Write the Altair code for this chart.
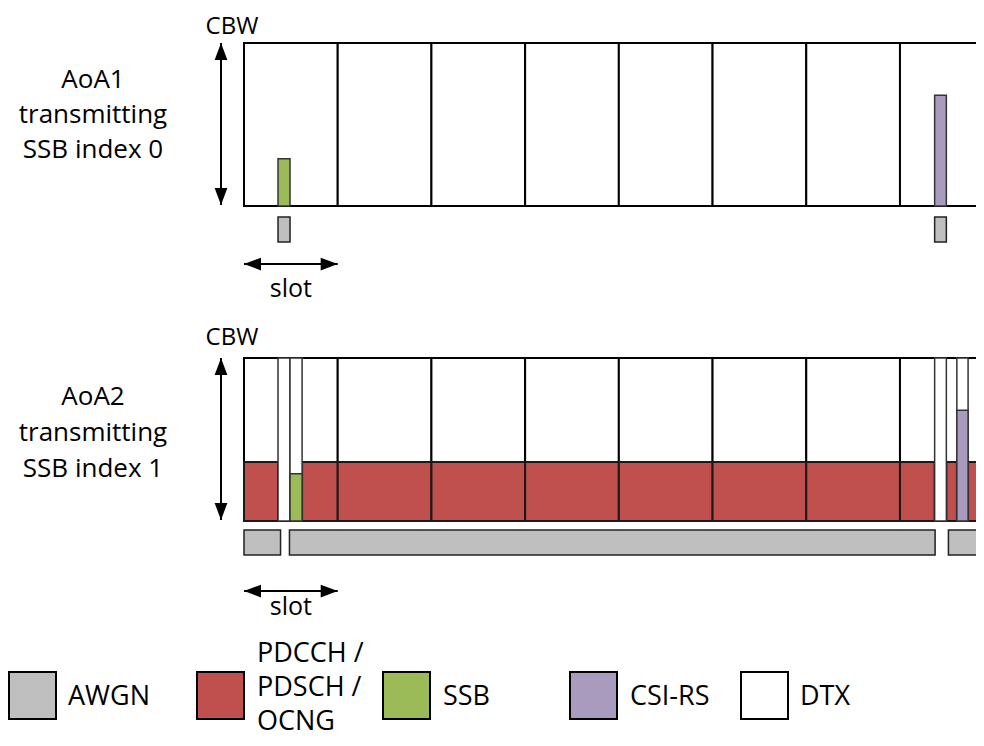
import altair as alt
import pandas as pd

# ---------------- data (time in slots, heights as fraction of CBW) ----------------
n_slots = 8
ssb_height = 0.29
csi_height = 0.68
pdsch_height = 0.362

# AoA1 transmitting SSB index 0
aoa1_ssb = [(0.363, 0.491)]
aoa1_csi = [(7.37, 7.495)]
aoa1_awgn = [(0.363, 0.491), (7.37, 7.495)]

# AoA2 transmitting SSB index 1
aoa2_dtx = [(0.363, 0.491), (7.37, 7.495)]
aoa2_ssb = [(0.491, 0.62)]
aoa2_csi = [(7.607, 7.727)]
aoa2_pdsch = [(0, 0.363), (0.62, 1), (1, 2), (2, 3), (3, 4), (4, 5), (5, 6),
              (6, 7), (7, 7.37), (7.495, 7.607), (7.727, 8)]
aoa2_awgn = [(0, 0.39), (0.485, 7.375), (7.517, 8.3)]

panel_labels = [["AoA1", "transmitting", "SSB index 0"],
                ["AoA2", "transmitting", "SSB index 1"]]
legend_names = ["AWGN", "PDCCH /\nPDSCH /\nOCNG", "SSB", "CSI-RS", "DTX"]
legend_colors = ["#BFBFBF", "#C0504D", "#9BBB59", "#A99BBD", "#FFFFFF"]

C_AWGN, C_RED, C_SSB, C_CSI, C_DTX = legend_colors

# ---------------- layout ----------------
X0_PX, SLOT_PX = 244.0, 93.71
def sx(px):
    return (px - X0_PX) / SLOT_PX

box_top = [43, 358]
box_bot = [206, 521]
awgn_y = [(217, 242), (530, 555)]

def fy(p, frac):
    return box_bot[p] - frac * (box_bot[p] - box_top[p])

rects = []
def add(x, x2, y, y2, fill, stroke="#000000", sw=1.5):
    rects.append(dict(x=x, x2=x2, y=y, y2=y2, fill=fill, stroke=stroke, sw=sw))

# panel 1
for s in range(n_slots):
    add(s, s + 1, box_top[0], box_bot[0], "#FFFFFF", "#000000", 2)
for a, b in aoa1_ssb:
    add(a, b, fy(0, ssb_height), box_bot[0], C_SSB, "#333333", 1.5)
for a, b in aoa1_csi:
    add(a, b, fy(0, csi_height), box_bot[0], C_CSI, "#333333", 1.5)
for a, b in aoa1_awgn:
    add(a, b, awgn_y[0][0], awgn_y[0][1], C_AWGN, "#222222", 1.5)

# panel 2
for s in range(n_slots):
    add(s, s + 1, box_top[1], box_bot[1], "#FFFFFF", "#000000", 2)
for a, b in aoa2_pdsch:
    add(a, b, fy(1, pdsch_height), box_bot[1], C_RED, "#1a1a1a", 2)
for a, b in aoa2_dtx + aoa2_ssb + aoa2_csi:
    add(a, b, box_top[1], box_bot[1], C_DTX, "#333333", 1.5)
for a, b in aoa2_ssb:
    add(a, b, fy(1, ssb_height), box_bot[1], C_SSB, "#333333", 1.5)
for a, b in aoa2_csi:
    add(a, b, fy(1, csi_height), box_bot[1], C_CSI, "#333333", 1.5)
for a, b in aoa2_awgn:
    add(a, b, awgn_y[1][0], awgn_y[1][1], C_AWGN, "#222222", 1.5)

rect_df = pd.DataFrame(rects)

# legend squares
leg_x = [9, 197, 383, 570, 741]
leg_df = pd.DataFrame(dict(
    x=[sx(v) for v in leg_x], x2=[sx(v + 47) for v in leg_x],
    y=[672] * 5, y2=[719] * 5, fill=legend_colors))

# texts
center_txt = []
for p, lines in enumerate(panel_labels):
    bases = [88, 123, 158] if p == 0 else [405, 441, 477]
    for t, yb in zip(lines, bases):
        center_txt.append(dict(x=sx(93), y=yb, t=t, fs=26))
center_txt.append(dict(x=sx(232), y=34, t="CBW", fs=24))
center_txt.append(dict(x=sx(232), y=345, t="CBW", fs=24))
center_txt.append(dict(x=0.5, y=297, t="slot", fs=25))
center_txt.append(dict(x=0.5, y=615, t="slot", fs=25))
ctext_df = pd.DataFrame(center_txt)

left_txt = []
leg_text_x = [68, 257, 443, 630, 800]
for name, xt in zip(legend_names, leg_text_x):
    parts = name.split("\n")
    if len(parts) == 1:
        left_txt.append(dict(x=sx(xt), y=705, t=parts[0], fs=27))
    else:
        for t, yb in zip(parts, [662, 696, 730]):
            left_txt.append(dict(x=sx(xt), y=yb, t=t, fs=27))
ltext_df = pd.DataFrame(left_txt)

# arrows
shafts = pd.DataFrame([
    dict(x=sx(221), x2=sx(221), y=box_top[0], y2=box_bot[0] - 1),
    dict(x=sx(221), x2=sx(221), y=box_top[1], y2=box_bot[1] - 1),
    dict(x=0, x2=1, y=264, y2=264),
    dict(x=0, x2=1, y=591, y2=591),
])
heads_up = pd.DataFrame(dict(x=[sx(221)] * 2, y=[box_top[0], box_top[1]]))
heads_down = pd.DataFrame(dict(x=[sx(221)] * 2, y=[box_bot[0] - 1, box_bot[1] - 1]))
heads_left = pd.DataFrame(dict(x=[0, 0], y=[264, 591]))
heads_right = pd.DataFrame(dict(x=[1, 1], y=[264, 591]))

# the page has an 8px margin: plot area covers page pixels 8..976 x 8..738
W, H = 968, 730
xs = alt.Scale(domain=[sx(8), sx(8 + W)], nice=False, zero=False)
ys = alt.Scale(domain=[8, 8 + H], reverse=True, nice=False, zero=False)
X = lambda f="x": alt.X(f"{f}:Q", scale=xs, axis=None)
Y = lambda f="y": alt.Y(f"{f}:Q", scale=ys, axis=None)

rect_layer = alt.Chart(rect_df).mark_rect(clip=True).encode(
    x=X(), x2="x2", y=Y(), y2="y2",
    fill=alt.Fill("fill:N", scale=None),
    stroke=alt.Stroke("stroke:N", scale=None),
    strokeWidth=alt.StrokeWidth("sw:Q", scale=None),
)

leg_layer = alt.Chart(leg_df).mark_rect(stroke="#000000", strokeWidth=2).encode(
    x=X(), x2="x2", y=Y(), y2="y2",
    fill=alt.Fill("fill:N", scale=None),
)

FONT = "Open Sans"
ctext = alt.Chart(ctext_df).mark_text(align="center", baseline="alphabetic",
                                      font=FONT, color="#000000").encode(
    x=X(), y=Y(), text="t:N", size=alt.Size("fs:Q", scale=None))
ltext = alt.Chart(ltext_df).mark_text(align="left", baseline="alphabetic",
                                      font=FONT, color="#000000").encode(
    x=X(), y=Y(), text="t:N", size=alt.Size("fs:Q", scale=None))

shaft_layer = alt.Chart(shafts).mark_rule(color="#000000", strokeWidth=2).encode(
    x=X(), x2="x2", y=Y(), y2="y2")

def heads(df, path):
    return alt.Chart(df).mark_point(shape=path, filled=True, size=289,
                                    color="#000000", opacity=1, strokeWidth=0).encode(
        x=X(), y=Y())

h_up = heads(heads_up, "M0,0L-0.75,2L0.75,2Z")
h_down = heads(heads_down, "M0,0L-0.75,-2L0.75,-2Z")
h_left = heads(heads_left, "M0,0L2,-0.75L2,0.75Z")
h_right = heads(heads_right, "M0,0L-2,-0.75L-2,0.75Z")

chart = alt.layer(
    rect_layer, leg_layer, shaft_layer, h_up, h_down, h_left, h_right, ctext, ltext
).properties(
    width=W, height=H, padding=0,
    autosize=alt.AutoSizeParams(type="none"),
).configure_view(stroke=None)

chart.save("out.html", embed_options={"renderer": "svg", "actions": False})
